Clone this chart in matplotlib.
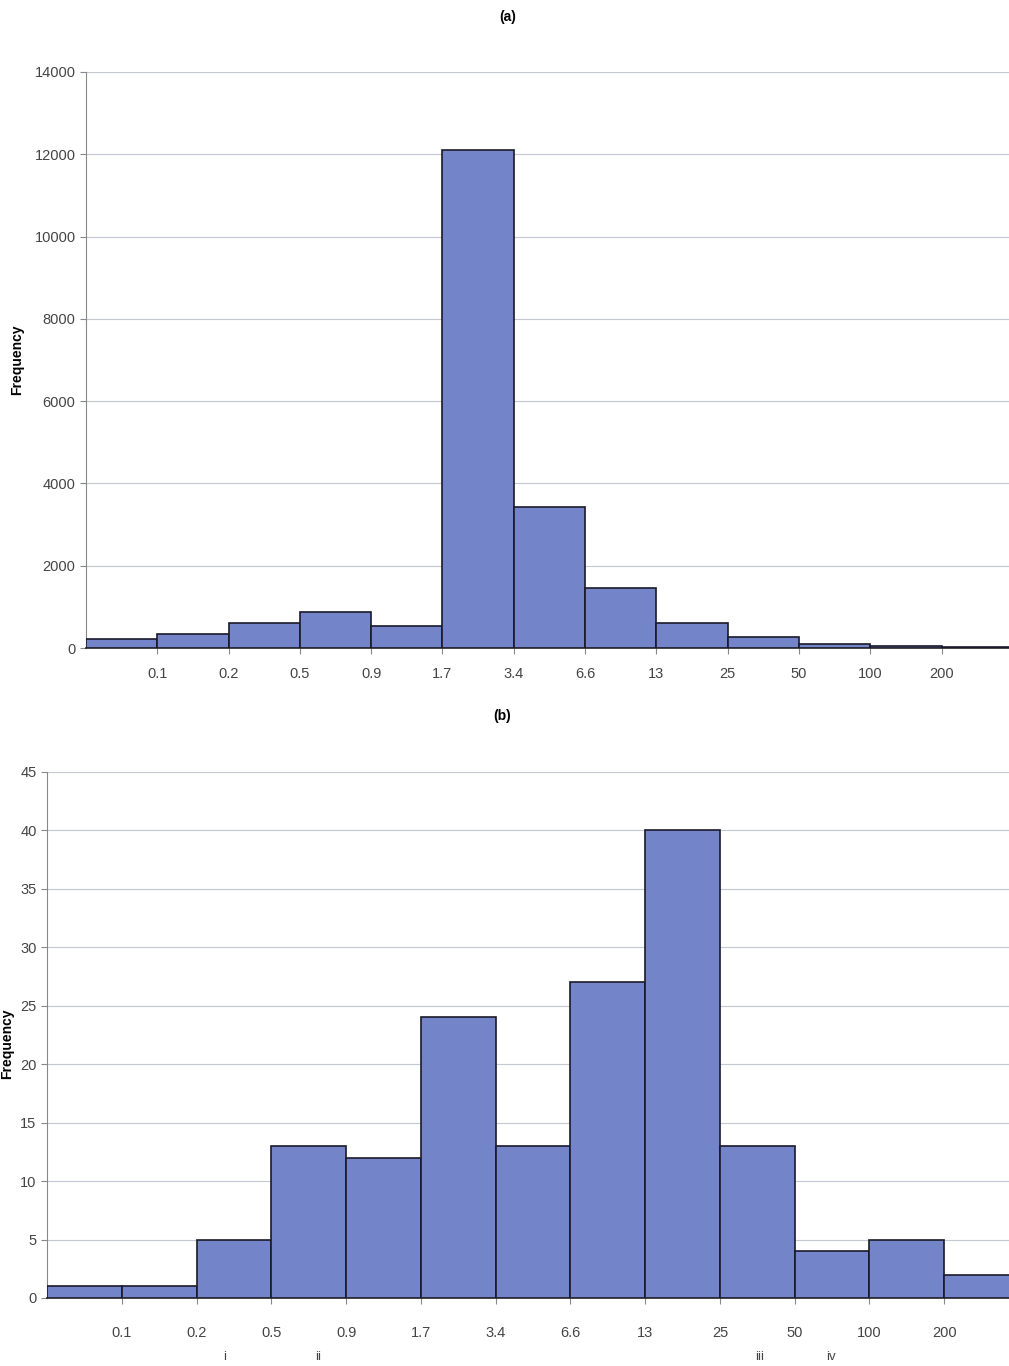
import numpy as np
import matplotlib.pyplot as plt

plt.rcParams['font.family'] = ['Liberation Sans', 'DejaVu Sans']

# bin edge labels (shared by both panels)
edges = ['0.1', '0.2', '0.5', '0.9', '1.7', '3.4', '6.6', '13', '25', '50', '100', '200']

# panel (a) frequencies
freq_a = [220, 350, 620, 870, 530, 12100, 3430, 1460, 620, 258, 110, 60, 30]
# panel (b) frequencies
freq_b = [1, 1, 5, 13, 12, 24, 13, 27, 40, 13, 4, 5, 2]

# roman numeral markers below panel (b)
marks = ['i', 'ii', 'iii', 'iv']
mark_pos = [2.37, 3.62, 9.53, 10.48]

bar_color = '#7484c8'


def draw(ax, freq, ymax, ystep, pad):
    x = np.arange(len(freq))
    ax.bar(x, freq, width=1.0, align='edge', color=bar_color,
           edgecolor='#1a1a2a', linewidth=1.2, zorder=3)
    ax.set_xlim(0, len(freq))
    ax.set_ylim(0, ymax)
    ax.set_yticks(np.arange(0, ymax + 1, ystep))
    ax.set_xticks(np.arange(1, len(edges) + 1))
    ax.set_xticklabels(edges)
    ax.yaxis.grid(True, color='#c4c8d4', linewidth=0.8, zorder=0)
    ax.tick_params(axis='x', length=4, pad=pad, labelsize=10.5,
                   colors='#444444', color='#888888')
    ax.tick_params(axis='y', length=4, labelsize=10.5,
                   colors='#444444', color='#888888')
    for s in ['top', 'right']:
        ax.spines[s].set_visible(False)
    ax.spines['left'].set_color('#888888')
    ax.spines['bottom'].set_color('#222222')
    ax.spines['bottom'].set_linewidth(1.2)


fig = plt.figure(figsize=(10.09, 13.66), dpi=100)

ax1 = fig.add_axes([0.0852, 0.5256, 0.9186, 0.4217])
draw(ax1, freq_a, 14000, 2000, 10)
fig.text(0.0165, 0.7365, 'Frequency', rotation=90, fontsize=10,
         fontweight='bold', ha='center', va='center')

ax2 = fig.add_axes([0.0466, 0.0498, 0.9633, 0.3851])
draw(ax2, freq_b, 45, 5, 16)

fig.text(0.0068, 0.236, 'Frequency', rotation=90, fontsize=10,
         fontweight='bold', ha='center', va='center')

fig.text(0.503, 0.9876, '(a)', fontsize=10, fontweight='bold', ha='center', va='center')
fig.text(0.4975, 0.4758, '(b)', fontsize=10, fontweight='bold', ha='center', va='center')

for m, p in zip(marks, mark_pos):
    ax2.text(p, -0.112, m, transform=ax2.get_xaxis_transform(),
             fontsize=9.5, color='#444444', ha='center', va='center')

fig.savefig('out.png', dpi=100)
